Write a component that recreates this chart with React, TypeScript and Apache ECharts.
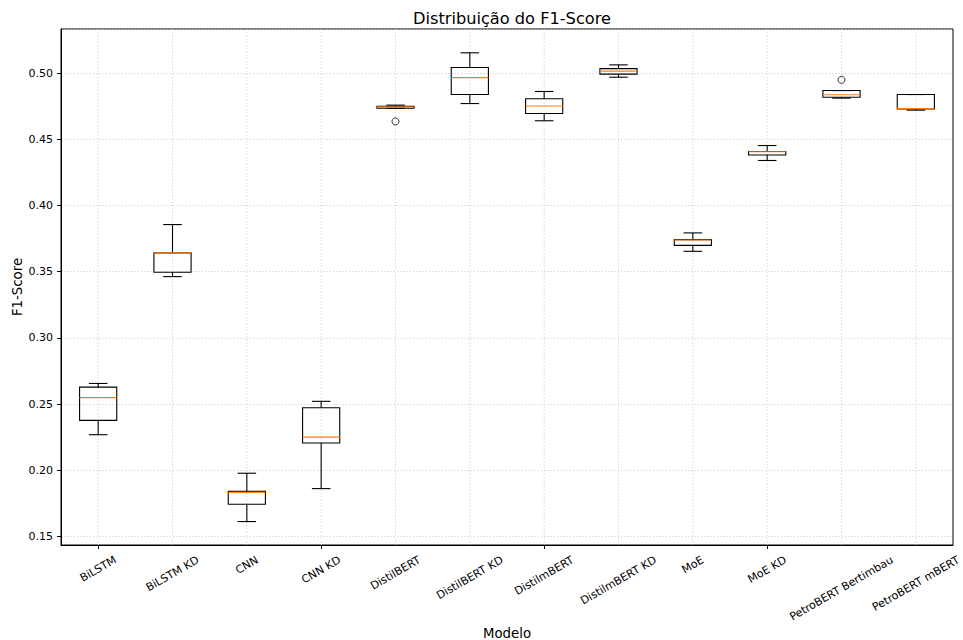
import React, { useEffect, useRef } from "react";
import * as echarts from "echarts";

// Models compared, in axis order
const categories = [
  "BiLSTM",
  "BiLSTM KD",
  "CNN",
  "CNN KD",
  "DistilBERT",
  "DistilBERT KD",
  "DistilmBERT",
  "DistilmBERT KD",
  "MoE",
  "MoE KD",
  "PetroBERT Bertimbau",
  "PetroBERT mBERT",
];

// Five-number summaries of the F1-Score per model
const whiskerLow = [0.2269, 0.3463, 0.1613, 0.1862, 0.4735, 0.477, 0.464, 0.4969, 0.3654, 0.434, 0.4811, 0.472];
const q1 = [0.2377, 0.3496, 0.1744, 0.2206, 0.4735, 0.4838, 0.4695, 0.4992, 0.3699, 0.4381, 0.4818, 0.473];
const median = [0.2549, 0.3642, 0.1832, 0.2251, 0.4743, 0.4966, 0.4751, 0.5015, 0.374, 0.4406, 0.4836, 0.4732];
const q3 = [0.2628, 0.3642, 0.1842, 0.2473, 0.475, 0.5042, 0.4806, 0.5034, 0.3742, 0.4408, 0.4868, 0.4838];
const whiskerHigh = [0.2656, 0.3856, 0.1978, 0.2521, 0.4758, 0.5153, 0.4861, 0.5062, 0.3793, 0.4453, 0.4868, 0.4838];

// Outliers: [model index, F1-Score]
const outliers = [
  [4, 0.4635],
  [10, 0.4949],
];

const Y_MIN = 0.1436;
const Y_MAX = 0.5333;

const FONT = "DejaVu Sans";
const TICK_FS = 11;

function measure(text: string, size: number): number {
  const ctx = document.createElement("canvas").getContext("2d");
  if (!ctx) return text.length * size * 0.6;
  ctx.font = `${size}px "${FONT}"`;
  return ctx.measureText(text).width;
}

export default function App() {
  const ref = useRef<HTMLDivElement>(null);

  useEffect(() => {
    if (!ref.current) return;
    const chart = echarts.init(ref.current, undefined, { renderer: "svg" });

    const sin30 = Math.sin(Math.PI / 6);
    const cos30 = Math.cos(Math.PI / 6);
    const lineH = TICK_FS * 1.164;

    // Half height of each rotated label's bounding box, so labels hang centred under their ticks
    const labelHalf = categories.map((name) => {
      const w = measure(name, TICK_FS);
      return (w * sin30 + lineH * cos30) / 2;
    });

    const boxData = categories.map((_, i) => [i, whiskerLow[i], q1[i], median[i], q3[i], whiskerHigh[i]]);

    const lineStyleBlack = { stroke: "#000", lineWidth: 1.1 };

    const option = {
      animation: false,
      backgroundColor: "#fff",
      title: {
        text: "Distribuição do F1-Score",
        left: 507,
        top: 5,
        textAlign: "center",
        textStyle: { fontFamily: FONT, fontSize: 16.2, fontWeight: "normal", color: "#000" },
      },
      grid: {
        left: 61,
        top: 29,
        right: 10,
        bottom: 95,
        containLabel: false,
        outerBoundsMode: "none",
        show: true,
        borderColor: "#000",
        borderWidth: 1,
        backgroundColor: "transparent",
      },
      xAxis: {
        type: "category",
        data: categories,
        boundaryGap: true,
        name: "Modelo",
        nameLocation: "middle",
        nameGap: 82,
        nameMoveOverlap: false,
        nameTextStyle: { fontFamily: FONT, fontSize: 13.3, color: "#000" },
        axisLine: { show: true, lineStyle: { color: "#000", width: 1 } },
        axisTick: { show: true, alignWithLabel: true, length: 4, lineStyle: { color: "#000", width: 1 } },
        axisLabel: { show: false },
        splitLine: { show: false },
      },
      yAxis: {
        type: "value",
        min: Y_MIN,
        max: Y_MAX,
        splitNumber: 8,
        name: "F1-Score",
        nameLocation: "middle",
        nameGap: 37,
        nameMoveOverlap: false,
        nameTextStyle: { fontFamily: FONT, fontSize: 13.3, color: "#000" },
        axisLine: { show: true, lineStyle: { color: "#000", width: 1 } },
        axisTick: { show: true, length: 4, lineStyle: { color: "#000", width: 1 } },
        axisLabel: {
          showMinLabel: false,
          showMaxLabel: false,
          margin: 8,
          fontFamily: FONT,
          fontSize: TICK_FS,
          color: "#000",
          formatter: (v: number) => v.toFixed(2),
        },
        splitLine: {
          show: true,
          lineStyle: { color: "#c8c8c8", width: 0.8, type: [1.2, 2] },
        },
      },
      series: [
        {
          // vertical dotted grid at each model
          type: "custom",
          z: 1,
          silent: true,
          data: categories.map((_, i) => [i, Y_MIN, Y_MAX]),
          encode: { x: 0, y: [1, 2] },
          renderItem: (params: any, api: any) => {
            const top = api.coord([api.value(0), Y_MAX]);
            const bot = api.coord([api.value(0), Y_MIN]);
            return {
              type: "line",
              shape: { x1: top[0], y1: top[1], x2: bot[0], y2: bot[1] },
              style: { stroke: "#c8c8c8", lineWidth: 0.8, lineDash: [1.2, 2] },
            };
          },
        },
        {
          // rotated model names, centred under each tick
          type: "custom",
          z: 5,
          silent: true,
          clip: false,
          data: categories.map((_, i) => [i, Y_MIN]),
          encode: { x: 0, y: 1 },
          renderItem: (params: any, api: any) => {
            const i = params.dataIndex;
            const p = api.coord([api.value(0), Y_MIN]);
            return {
              type: "text",
              x: p[0],
              y: p[1] + 8.5 + labelHalf[i],
              rotation: Math.PI / 6,
              style: {
                text: categories[i],
                fontFamily: FONT,
                fontSize: TICK_FS,
                fill: "#000",
                align: "center",
                verticalAlign: "middle",
              },
            };
          },
        },
        {
          type: "custom",
          z: 3,
          data: boxData,
          encode: { x: 0, y: [1, 2, 3, 4, 5] },
          renderItem: (params: any, api: any) => {
            const x = api.value(0);
            const lo = api.coord([x, api.value(1)]);
            const b1 = api.coord([x, api.value(2)]);
            const md = api.coord([x, api.value(3)]);
            const b3 = api.coord([x, api.value(4)]);
            const hi = api.coord([x, api.value(5)]);
            const unit = api.size([1, 0])[0];
            const bw = unit * 0.5;
            const cw = unit * 0.25;
            const cx = lo[0];
            return {
              type: "group",
              children: [
                { type: "line", shape: { x1: cx, y1: b3[1], x2: cx, y2: hi[1] }, style: lineStyleBlack },
                { type: "line", shape: { x1: cx, y1: b1[1], x2: cx, y2: lo[1] }, style: lineStyleBlack },
                { type: "line", shape: { x1: cx - cw / 2, y1: hi[1], x2: cx + cw / 2, y2: hi[1] }, style: lineStyleBlack },
                { type: "line", shape: { x1: cx - cw / 2, y1: lo[1], x2: cx + cw / 2, y2: lo[1] }, style: lineStyleBlack },
                {
                  type: "rect",
                  shape: { x: cx - bw / 2, y: b3[1], width: bw, height: b1[1] - b3[1] },
                  style: { fill: "none", stroke: "#000", lineWidth: 1.1 },
                },
                {
                  type: "line",
                  shape: { x1: cx - bw / 2, y1: md[1], x2: cx + bw / 2, y2: md[1] },
                  style: { stroke: "#ff7f0e", lineWidth: 1.1 },
                },
              ],
            };
          },
        },
        {
          type: "scatter",
          z: 4,
          data: outliers,
          symbol: "circle",
          symbolSize: 7,
          itemStyle: { color: "transparent", borderColor: "#000", borderWidth: 1 },
        },
      ],
    };

    chart.setOption(option as any);
    return () => chart.dispose();
  }, []);

  return (
    <div
      ref={ref}
      style={{ position: "absolute", left: 0, top: 0, width: 963, height: 640 }}
    />
  );
}
